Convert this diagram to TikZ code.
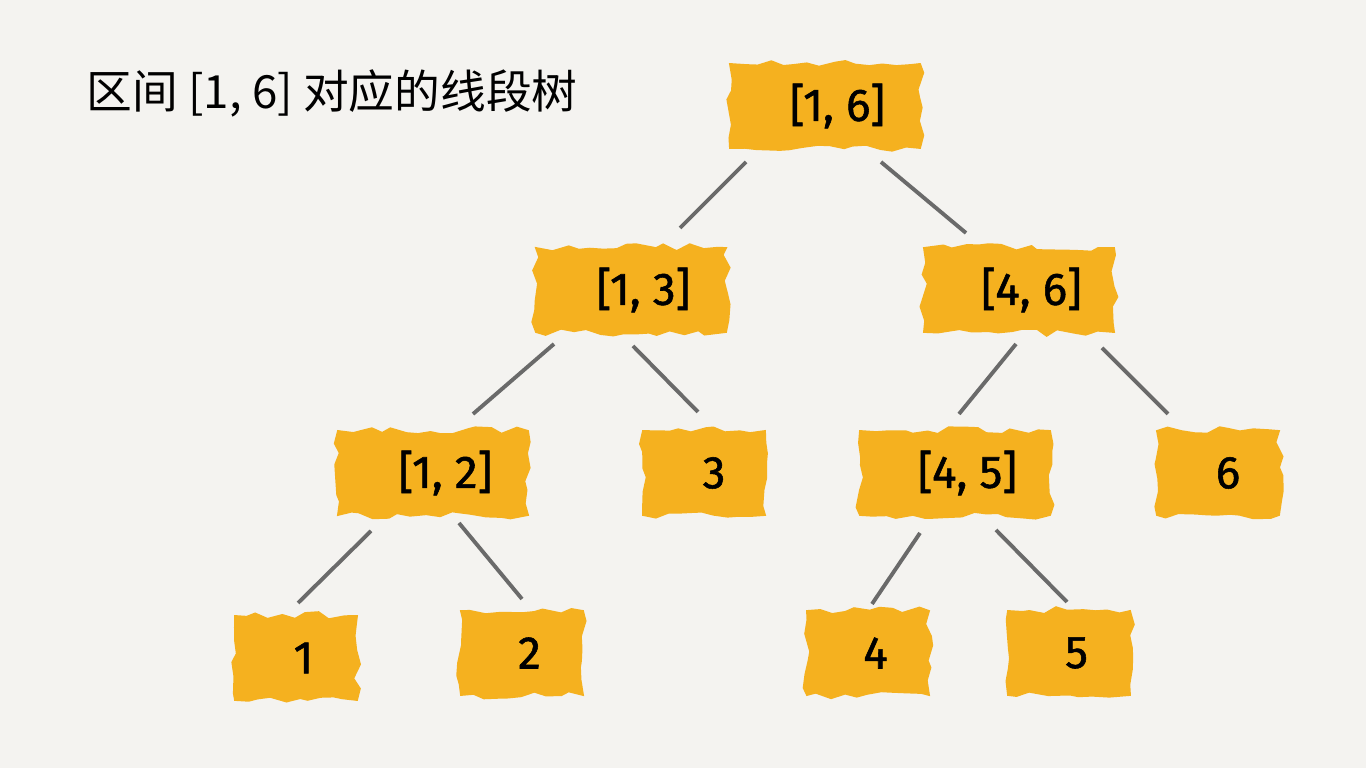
\documentclass[tikz,border=0pt]{standalone}
\usepackage{fontspec}
\setmainfont{Fira Sans}
\newfontfamily\lab[FakeBold=1.2]{Fira Sans}
\newfontfamily\cjk{Noto Sans CJK SC}
\usetikzlibrary{decorations.pathmorphing}
\definecolor{bg}{HTML}{F4F3F0}
\definecolor{brush}{HTML}{F5B11F}
\definecolor{edge}{HTML}{6A6A6A}
\pgfmathsetseed{11}
\tikzset{
  blob/.style={fill=brush, draw=brush, line width=0.5pt, inner sep=0pt,
    minimum height=0.84cm, text=black, font=\lab\fontsize{13}{13}\selectfont,
    decorate, decoration={random steps, segment length=3.5pt, amplitude=1.1pt}},
  wide/.style={blob, minimum width=1.9cm},
  narrow/.style={blob, minimum width=1.22cm},
  link/.style={edge, line width=1.1pt}
}
\begin{document}
\begin{tikzpicture}[x=0.01cm,y=-0.01cm]
\fill[bg] (0,0) rectangle (1366,768);
\useasboundingbox (0,0) rectangle (1366,768);
\node[anchor=west, inner sep=0pt, font=\cjk\fontsize{13}{13}\selectfont] (title) at (86,93) {区间 [1, 6] 对应的线段树};

\node[wide] (n16) at (825,106) {\hspace{0.25cm}[1, 6]};
\node[wide] (n13) at (631,290) {\hspace{0.25cm}[1, 3]};
\node[wide] (n46) at (1019,290) {\hspace{0.25cm}[4, 6]};
\node[wide] (n12) at (433,473) {\hspace{0.25cm}[1, 2]};
\node[narrow] (n3) at (704,473) {\hspace{0.2cm}3};
\node[wide] (n45) at (955,473) {\hspace{0.25cm}[4, 5]};
\node[narrow] (n6) at (1218,473) {\hspace{0.2cm}6};
\node[narrow] (n1) at (296,658) {\hspace{0.15cm}1};
\node[narrow] (n2) at (522,653) {\hspace{0.15cm}2};
\node[narrow] (n4) at (868,653) {\hspace{0.15cm}4};
\node[narrow] (n5) at (1069,653) {\hspace{0.15cm}5};

\coordinate (a1) at (746,162); \coordinate (b1) at (680,228);
\coordinate (a2) at (881,162); \coordinate (b2) at (966,233);
\coordinate (a3) at (554,344); \coordinate (b3) at (473,414);
\coordinate (a4) at (633,346); \coordinate (b4) at (698,412);
\coordinate (a5) at (1016,344); \coordinate (b5) at (959,414);
\coordinate (a6) at (1102,348); \coordinate (b6) at (1168,414);
\coordinate (a7) at (371,531); \coordinate (b7) at (298,603);
\coordinate (a8) at (459,523); \coordinate (b8) at (522,599);
\coordinate (a9) at (920,533); \coordinate (b9) at (872,604);
\coordinate (a10) at (996,530); \coordinate (b10) at (1067,602);
\foreach \i in {1,...,10} \draw[link] (a\i) -- (b\i);
\end{tikzpicture}
\end{document}
